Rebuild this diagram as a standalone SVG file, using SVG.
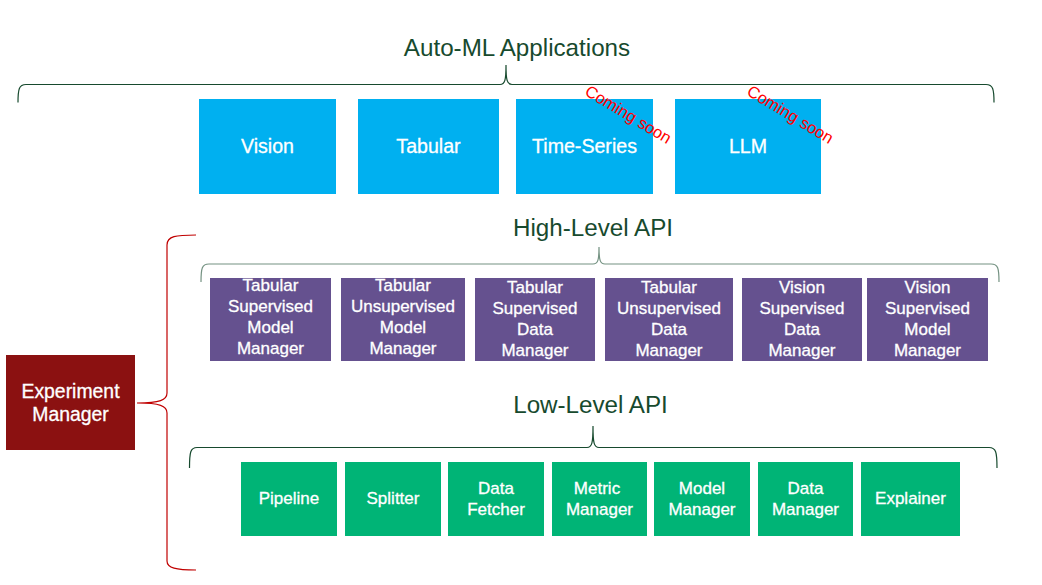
<svg xmlns="http://www.w3.org/2000/svg" width="1042" height="585" viewBox="0 0 1042 585">
<style>
text{font-family:"Liberation Sans",Arial,sans-serif;text-anchor:middle}
.t{fill:#fff;stroke:#fff;stroke-width:0.3}
.title{fill:#174A2E;font-size:24.2px}
.app rect{fill:#00B0F0}
.app text{font-size:19.6px}
.hl rect{fill:#65518F}
.hl text{font-size:17px}
.ll rect{fill:#00B476}
.ll text{font-size:17px}
.soon{fill:#FF0000;font-size:16.5px}
.brace{fill:none;stroke:#174A2E;stroke-width:1.2}
.rbrace{fill:none;stroke:#C00000;stroke-width:1.2}
</style>
<rect width="1042" height="585" fill="#fff"/>

<g id="connectors">
  <path class="brace" d="M18,102.5 C18,89 19,84.5 26,84.5 L500,84.5 C505,84.5 506,80 506,65 C506,80 507,84.5 512,84.5 L986,84.5 C993,84.5 994,89 994,102.5"/>
  <path class="brace" stroke-opacity="0.6" d="M201,282 C201,268 202,264 209,264 L593,264 C598,264 599,260 599,247 C599,260 600,264 605,264 L991,264 C998,264 999,268 999,282"/>
  <path class="brace" d="M189.5,468 C189.5,452 190.5,447.5 197,447.5 L587,447.5 C592,447.5 593,443 593,426 C593,443 594,447.5 599,447.5 L989,447.5 C996,447.5 997,452 997,468"/>
  <path class="rbrace" d="M196,235 C176,235 167,236 167,245 L167,393 C167,400 160,403 137,403 C160,403 167,406 167,413 L167,561 C167,568 176,570 196,570"/>
</g>

<text class="title" x="517" y="56">Auto-ML Applications</text>
<text class="title" x="593" y="236">High-Level API</text>
<text class="title" x="590.5" y="413">Low-Level API</text>

<g id="vision" class="app"><rect x="199" y="99" width="137" height="95"/><text class="t" x="267.5" y="153">Vision</text></g>
<g id="tabular" class="app"><rect x="358" y="99" width="141" height="95"/><text class="t" x="428.5" y="153">Tabular</text></g>
<g id="timeseries" class="app"><rect x="516" y="99" width="137" height="95"/><text class="t" x="584.5" y="153">Time-Series</text></g>
<g id="llm" class="app"><rect x="675" y="99" width="146" height="95"/><text class="t" x="748" y="153">LLM</text></g>

<text class="soon" transform="translate(628,115) rotate(31)" y="5">Coming soon</text>
<text class="soon" transform="translate(790,115) rotate(31)" y="5">Coming soon</text>

<g id="hl1" class="hl"><rect x="210" y="278" width="121" height="83"/>
<text class="t" x="270.5" y="291">Tabular</text><text class="t" x="270.5" y="312">Supervised</text><text class="t" x="270.5" y="333">Model</text><text class="t" x="270.5" y="354">Manager</text></g>
<g id="hl2" class="hl"><rect x="341" y="278" width="124" height="83"/>
<text class="t" x="403" y="291">Tabular</text><text class="t" x="403" y="312">Unsupervised</text><text class="t" x="403" y="333">Model</text><text class="t" x="403" y="354">Manager</text></g>
<g id="hl3" class="hl"><rect x="475" y="278" width="120" height="83"/>
<text class="t" x="535" y="293">Tabular</text><text class="t" x="535" y="314">Supervised</text><text class="t" x="535" y="335">Data</text><text class="t" x="535" y="356">Manager</text></g>
<g id="hl4" class="hl"><rect x="605" y="278" width="128" height="83"/>
<text class="t" x="669" y="293">Tabular</text><text class="t" x="669" y="314">Unsupervised</text><text class="t" x="669" y="335">Data</text><text class="t" x="669" y="356">Manager</text></g>
<g id="hl5" class="hl"><rect x="742" y="278" width="120" height="83"/>
<text class="t" x="802" y="293">Vision</text><text class="t" x="802" y="314">Supervised</text><text class="t" x="802" y="335">Data</text><text class="t" x="802" y="356">Manager</text></g>
<g id="hl6" class="hl"><rect x="867" y="278" width="121" height="83"/>
<text class="t" x="927.5" y="293">Vision</text><text class="t" x="927.5" y="314">Supervised</text><text class="t" x="927.5" y="335">Model</text><text class="t" x="927.5" y="356">Manager</text></g>

<g id="experiment"><rect x="6" y="355" width="129" height="95" fill="#8B1111"/>
<text class="t" x="70.5" y="397.5" font-size="19.4">Experiment</text><text class="t" x="70.5" y="421" font-size="19.4">Manager</text></g>

<g id="pipeline" class="ll"><rect x="241" y="462" width="96" height="74"/><text class="t" x="289" y="504">Pipeline</text></g>
<g id="splitter" class="ll"><rect x="345" y="462" width="96" height="74"/><text class="t" x="393" y="504">Splitter</text></g>
<g id="datafetcher" class="ll"><rect x="448" y="462" width="96" height="74"/><text class="t" x="496" y="494">Data</text><text class="t" x="496" y="515">Fetcher</text></g>
<g id="metric" class="ll"><rect x="552" y="462" width="95" height="74"/><text class="t" x="597" y="494">Metric</text><text class="t" x="599.5" y="515">Manager</text></g>
<g id="model" class="ll"><rect x="654" y="462" width="96" height="74"/><text class="t" x="702" y="494">Model</text><text class="t" x="702" y="515">Manager</text></g>
<g id="datamgr" class="ll"><rect x="758" y="462" width="95" height="74"/><text class="t" x="805.5" y="494">Data</text><text class="t" x="805.5" y="515">Manager</text></g>
<g id="explainer" class="ll"><rect x="861" y="462" width="99" height="74"/><text class="t" x="910.5" y="504">Explainer</text></g>
</svg>
